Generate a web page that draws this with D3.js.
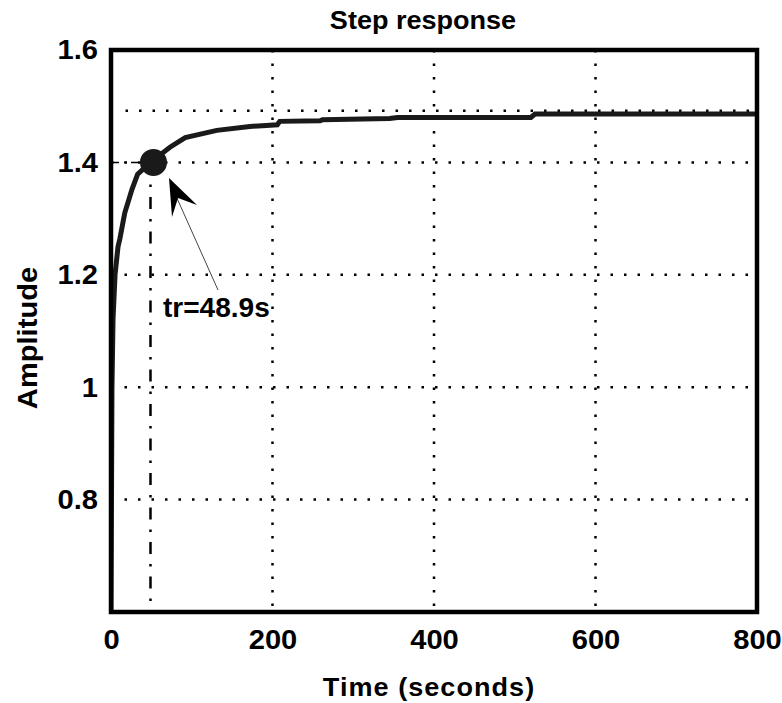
<!DOCTYPE html>
<html>
<head>
<meta charset="utf-8">
<script src="https://cdn.jsdelivr.net/npm/d3@7"></script>
<style>
  body { margin: 0; background: #fff; }
  svg text { font-family: "Liberation Sans", Arial, sans-serif; font-weight: bold; fill: #000; }
  .wide { transform-box: fill-box; transform-origin: center; transform: scaleX(1.04); }
  .wideR { transform-box: fill-box; transform-origin: right; transform: scaleX(1.04); }
</style>
</head>
<body>
<script>
// step response
var tData = [0, 1.2, 2.5, 5, 8.7, 11, 17, 26, 33, 48.9, 73, 92, 131, 172, 206, 209, 259, 262, 345, 355, 520, 525, 800]
var yData = [0.6, 1.0, 1.12, 1.20, 1.25, 1.264, 1.31, 1.352, 1.379, 1.40, 1.427, 1.444, 1.457, 1.464, 1.467, 1.473, 1.474, 1.476, 1.478, 1.480, 1.480, 1.486, 1.486]
var xTicks = [0, 200, 400, 600, 800]
var yTicks = [0.8, 1, 1.2, 1.4, 1.6]
var riseTime = 48.9
var riseValue = 1.40
var finalValue = 1.492
var finalStart = 18

var W = 782, H = 703
var svg = d3.select('body').append('svg')
  .attr('width', W).attr('height', H)

var x = d3.scaleLinear().domain([0, 800]).range([111, 757])
var y = d3.scaleLinear().domain([0.6, 1.6]).range([612, 50])

svg.append('clipPath').attr('id', 'clip')
  .append('rect').attr('x', x(0)).attr('y', y(1.6))
  .attr('width', x(800) - x(0)).attr('height', y(0.6) - y(1.6))

// grid
var grid = svg.append('g')
grid.selectAll('line.gx').data(xTicks.slice(1, -1)).enter().append('line')
  .attr('x1', d => x(d)).attr('x2', d => x(d))
  .attr('y1', y(1.6)).attr('y2', y(0.6))
  .attr('stroke', '#000').attr('stroke-width', 2.5).attr('stroke-dasharray', '2.5,11')
grid.selectAll('line.gy').data(yTicks.slice(0, -1)).enter().append('line')
  .attr('y1', d => y(d)).attr('y2', d => y(d))
  .attr('x1', x(0)).attr('x2', x(800))
  .attr('stroke', '#000').attr('stroke-width', 2.5).attr('stroke-dasharray', '2.5,11')

// steady state line
svg.append('line')
  .attr('x1', x(finalStart)).attr('x2', x(800))
  .attr('y1', y(finalValue)).attr('y2', y(finalValue))
  .attr('stroke', '#000').attr('stroke-width', 2.5).attr('stroke-dasharray', '2.5,11')

// rise time markers
svg.append('line')
  .attr('x1', x(riseTime)).attr('x2', x(riseTime))
  .attr('y1', y(riseValue)).attr('y2', y(0.6))
  .attr('stroke', '#000').attr('stroke-width', 2.5).attr('stroke-dasharray', '12,10,2.5,10')
svg.append('line')
  .attr('x1', x(0)).attr('x2', x(riseTime))
  .attr('y1', y(riseValue)).attr('y2', y(riseValue))
  .attr('stroke', '#000').attr('stroke-width', 1.5).attr('stroke-dasharray', '8,5,2,5')

// curve
var line = d3.line().x((d, i) => x(tData[i])).y(d => y(d))
svg.append('path').datum(yData)
  .attr('clip-path', 'url(#clip)')
  .attr('d', line)
  .attr('fill', 'none').attr('stroke', '#1a1a1a').attr('stroke-width', 5)

svg.append('circle')
  .attr('cx', x(riseTime) + 3).attr('cy', y(riseValue))
  .attr('r', 13.5).attr('fill', '#1a1a1a')

// arrow annotation
svg.append('line')
  .attr('x1', 218).attr('y1', 290).attr('x2', 176).attr('y2', 196)
  .attr('stroke', '#444').attr('stroke-width', 1)
svg.append('path')
  .attr('d', 'M169,178 L197,205 L178,198 L172,217 Z')
  .attr('fill', '#000')
svg.append('text').attr('class', 'wide')
  .attr('x', 165).attr('y', 317)
  .attr('font-size', 27)
  .text('tr=' + riseTime + 's')

// frame
svg.append('rect')
  .attr('x', x(0)).attr('y', y(1.6))
  .attr('width', x(800) - x(0)).attr('height', y(0.6) - y(1.6))
  .attr('fill', 'none').attr('stroke', '#000').attr('stroke-width', 4.5)

// axes
var xAxis = svg.append('g').attr('transform', 'translate(0,' + y(0.6) + ')')
  .call(d3.axisBottom(x).tickValues(xTicks).tickSize(0).tickPadding(17).tickFormat(d3.format('d')))
xAxis.select('.domain').remove()
xAxis.selectAll('text').attr('font-size', 28).attr('font-family', null).attr('class', 'wide')

var yAxis = svg.append('g').attr('transform', 'translate(' + x(0) + ',0)')
  .call(d3.axisLeft(y).tickValues(yTicks).tickSize(0).tickPadding(13).tickFormat(d => d === 1 ? '1' : d3.format('.1f')(d)))
yAxis.select('.domain').remove()
yAxis.selectAll('text').attr('font-size', 28).attr('font-family', null).attr('class', 'wideR')

// titles
svg.append('text').attr('class', 'wide')
  .attr('x', 423).attr('y', 29).attr('text-anchor', 'middle')
  .attr('font-size', 26).text('Step response')
svg.append('text').attr('class', 'wide')
  .attr('x', 429).attr('y', 696).attr('text-anchor', 'middle')
  .attr('font-size', 26).attr('letter-spacing', 1).text('Time (seconds)')
svg.append('g').attr('transform', 'translate(37,338) rotate(-90)')
  .append('text').attr('class', 'wide')
  .attr('text-anchor', 'middle')
  .attr('font-size', 28).text('Amplitude')
</script>
</body>
</html>
